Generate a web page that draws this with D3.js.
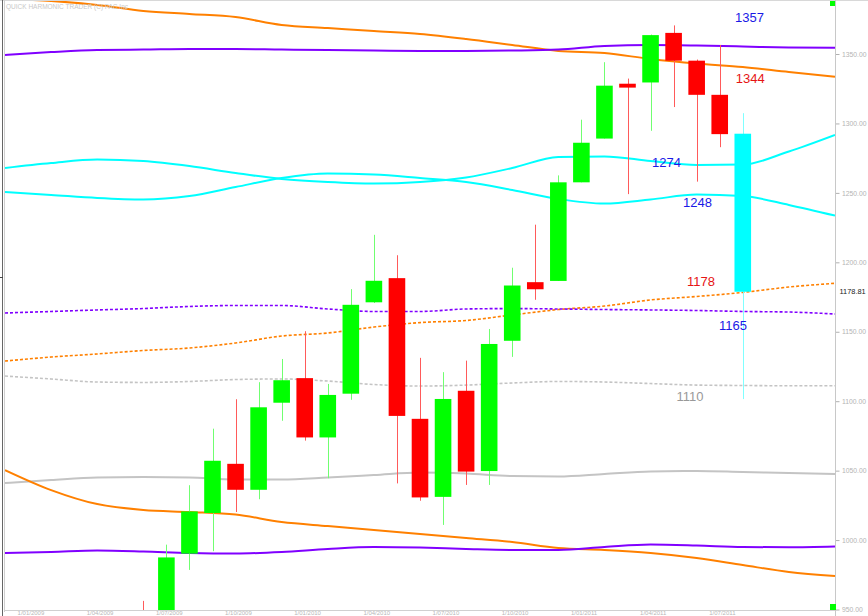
<!DOCTYPE html>
<html><head><meta charset="utf-8">
<script src="https://cdn.jsdelivr.net/npm/d3@7/dist/d3.min.js"></script>
<style>body{margin:0;background:#fff}svg{display:block;font-family:"Liberation Sans",Arial,sans-serif}</style>
</head><body><svg id="c" width="868" height="616"></svg>
<script>
// ---- DATA ----
const months = ["2009-06","2009-07","2009-08","2009-09","2009-10","2009-11","2009-12","2010-01","2010-02","2010-03","2010-04","2010-05","2010-06","2010-07","2010-08","2010-09","2010-10","2010-11","2010-12","2011-01","2011-02","2011-03","2011-04","2011-05","2011-06","2011-07","2011-08"];
const openV  = [923.3,920.8,990.2,1019.5,1054.9,1036.2,1098.9,1116.6,1073.9,1105.4,1171.2,1188.6,1087.3,1031.1,1107.5,1049.7,1143.5,1185.7,1186.6,1257.6,1289.1,1328.6,1329.5,1365.2,1345.2,1320.6,1292.6];
const highV  = [956.2,996.7,1039.5,1080.2,1101.4,1113.7,1130.4,1150.4,1112.4,1180.7,1219.8,1205.1,1131.2,1120.9,1129.2,1152.0,1196.1,1227.1,1262.6,1302.7,1344.1,1332.3,1364.0,1370.6,1346.0,1356.5,1307.4];
const lowV   = [888.9,869.3,978.5,992.0,1020.2,1029.4,1085.9,1071.6,1044.5,1101.0,1170.7,1040.8,1028.3,1010.9,1039.7,1039.7,1131.9,1173.0,1186.6,1257.6,1289.1,1249.1,1294.7,1311.8,1258.1,1282.9,1101.5];
const closeV = [919.3,987.5,1020.6,1057.1,1036.2,1095.6,1115.1,1073.9,1104.5,1169.4,1186.7,1089.4,1030.7,1101.6,1049.3,1141.2,1183.3,1180.6,1257.6,1286.1,1327.2,1325.8,1363.6,1345.2,1320.6,1292.3,1178.81];
const lastPrice = 1178.81;

// projection lines, sampled at bar index -6,-4,...,30
const lineIdx = d3.range(-6, 31, 2);
const purpleUpper = [1349.3,1351.4,1352.9,1353.2,1353.6,1353.6,1353.2,1352.9,1352.5,1352.2,1352.2,1352.5,1353.2,1355.8,1356.5,1356.1,1355.4,1354.7,1354.5];
const orangeUpper = [1389.6,1388.2,1385.3,1381.0,1378.8,1376.6,1370.9,1368.7,1366.5,1364.4,1360.8,1356.5,1352.2,1350.7,1346.4,1343.1,1340.6,1337.0,1333.6];
const cyanA       = [1267.9,1271.5,1274.0,1272.9,1269.3,1264.3,1260.0,1257.8,1256.7,1257.8,1261.1,1267.9,1275.8,1276.2,1272.9,1270.1,1270.4,1279.8,1291.7];
const cyanB       = [1250.6,1248.5,1246.3,1245.2,1247.7,1254.2,1260.7,1263.9,1263.2,1260.7,1257.8,1252.1,1245.6,1242.3,1245.2,1248.8,1247.7,1241.3,1233.6];
const purpleDot   = [1163.5,1164.6,1165.7,1166.7,1168.2,1168.9,1168.9,1166.4,1164.6,1164.6,1166.4,1166.7,1166.4,1166.0,1165.7,1165.3,1164.6,1164.2,1162.8];
const orangeDot   = [1128.9,1131.8,1134.0,1136.5,1138.3,1141.9,1146.9,1149.1,1153.4,1156.6,1158.1,1162.1,1166.0,1168.5,1172.9,1175.4,1178.3,1182.2,1184.9];
const grayDot     = [1118.1,1116.0,1113.8,1113.5,1114.2,1115.6,1116.0,1114.5,1112.0,1110.9,1111.6,1113.1,1114.2,1113.8,1112.7,1111.6,1111.3,1111.1,1111.1];
const graySolid   = [1041.1,1043.2,1045.0,1045.4,1045.0,1043.6,1043.6,1045.0,1046.8,1048.7,1047.9,1046.1,1045.8,1047.6,1049.4,1049.7,1049.0,1048.3,1047.6];
const orangeLower = [1050.4,1036.0,1025.9,1021.6,1020.2,1018.4,1013.0,1010.1,1007.3,1004.4,1001.5,998.6,994.3,992.9,990.7,987.1,982.0,977.0,974.1];
const purpleLower = [990.7,991.4,992.5,991.8,990.7,990.3,991.4,993.6,995.0,994.6,993.6,992.9,992.9,995.0,996.8,996.1,995.0,994.8,995.4];

const yTicks = [950,1000,1050,1100,1150,1200,1250,1300,1350];
const dateIdx = [-5,-2,1,4,7,10,13,16,19,22,25];
const dateLabels = ["1/01/2009","1/04/2009","1/07/2009","1/10/2009","1/01/2010","1/04/2010","1/07/2010","1/10/2010","1/01/2011","1/04/2011","1/07/2011"];
const levelLabels = ["1357","1344","1274","1248","1178","1165","1110"];

// ---- LAYOUT / STYLE ----
const W = 868, H = 616;
const plot = {left:5, right:835, top:1, bottom:610};
const svg = d3.select("#c");
const x = d3.scaleLinear().domain([-6, 30]).range([plot.left, plot.right]);
const y = d3.scaleLinear().domain([950, 1350]).range([609.5, 54]);
const step = x(1) - x(0);

svg.append("rect").attr("width", W).attr("height", H).attr("fill", "#fff");
svg.append("defs").append("clipPath").attr("id","clip").append("rect")
  .attr("x", plot.left).attr("y", plot.top).attr("width", plot.right-plot.left).attr("height", plot.bottom-plot.top);

const g = svg.append("g").attr("clip-path","url(#clip)");

// lines
const lineStyles = [
  {data: graySolid,   color:"#c4c4c4", dash:null, w:2},
  {data: grayDot,     color:"#c4c4c4", dash:"3,2", w:1.6},
  {data: orangeDot,   color:"#ff8000", dash:"3,2", w:1.6},
  {data: purpleDot,   color:"#8000ff", dash:"3,2", w:1.6},
  {data: cyanA,       color:"#00ffff", dash:null, w:2},
  {data: cyanB,       color:"#00ffff", dash:null, w:2},
  {data: orangeLower, color:"#ff8000", dash:null, w:2},
  {data: purpleLower, color:"#8000ff", dash:null, w:2},
  {data: orangeUpper, color:"#ff8000", dash:null, w:2},
  {data: purpleUpper, color:"#8000ff", dash:null, w:2}
];
const lineGen = d3.line().x((d,i)=>x(lineIdx[i])).y(d=>y(d)).curve(d3.curveMonotoneX);
lineStyles.forEach(s=>{
  g.append("path").attr("d", lineGen(s.data)).attr("fill","none")
    .attr("stroke", s.color).attr("stroke-width", s.w)
    .attr("stroke-dasharray", s.dash);
});

// candles
const bodyW = step*0.72;
const n = months.length;
const candles = d3.range(n).map(i=>({i, o:openV[i], h:highV[i], l:lowV[i], c:closeV[i]}));
function colors(d){
  if (d.i === n-1) return {body:"#00ffff", wick:"#80ffff"};
  return d.c >= d.o ? {body:"#00ff00", wick:"#70ff70"} : {body:"#ff0000", wick:"#ff5a5a"};
}
const cg = g.append("g");
cg.selectAll("line.w").data(candles).join("line")
  .attr("x1", d=>Math.round(x(d.i))+0.5).attr("x2", d=>Math.round(x(d.i))+0.5)
  .attr("y1", d=>y(d.h)).attr("y2", d=>y(d.l))
  .attr("stroke", d=>colors(d).wick).attr("stroke-width",1);
cg.selectAll("rect.b").data(candles).join("rect")
  .attr("x", d=>x(d.i)-bodyW/2).attr("width", bodyW)
  .attr("y", d=>y(Math.max(d.o,d.c))).attr("height", d=>Math.max(2, Math.abs(y(d.o)-y(d.c))))
  .attr("fill", d=>colors(d).body);

// level labels (positioned by bar index / price)
const levelPos = [
  {i:25.66, v:1376.6, color:"#1a1ae6"},
  {i:25.70, v:1332.7, color:"#e61414"},
  {i:22.06, v:1272.2, color:"#1a1ae6"},
  {i:23.41, v:1243.4, color:"#1a1ae6"},
  {i:23.58, v:1186.5, color:"#e61414"},
  {i:24.97, v:1154.9, color:"#1a1ae6"},
  {i:23.12, v:1103.7, color:"#999999"}
];
svg.selectAll("text.lvl").data(levelLabels).join("text")
  .attr("x", (d,k)=>x(levelPos[k].i)).attr("y", (d,k)=>y(levelPos[k].v))
  .attr("dy","0.36em").attr("font-size",13).attr("fill",(d,k)=>levelPos[k].color)
  .text(d=>d);

// frame
svg.append("line").attr("x1",0).attr("x2",W).attr("y1",0.5).attr("y2",0.5).attr("stroke","#d8d8d8");
svg.append("line").attr("x1",2.5).attr("x2",2.5).attr("y1",0).attr("y2",H).attr("stroke","#666");
svg.append("line").attr("x1",4.5).attr("x2",4.5).attr("y1",0).attr("y2",612).attr("stroke","#d0d0d0");
svg.append("line").attr("x1",plot.left).attr("x2",plot.right).attr("y1",610.5).attr("y2",610.5).attr("stroke","#d0d0d0");
svg.append("line").attr("x1",0).attr("x2",3).attr("y1",277.5).attr("y2",277.5).attr("stroke","#444");

// right axis
const yAxis = d3.axisRight(y).tickValues(yTicks).tickFormat(d3.format(".2f")).tickSize(4).tickPadding(2.5);
const ya = svg.append("g").attr("transform","translate(835.5,0)").call(yAxis);
ya.select(".domain").remove();
ya.selectAll(".tick line").attr("stroke","#b0b0b0");
ya.selectAll(".tick text").attr("fill","#b4b4b4").attr("font-size",6.8).attr("font-family","Liberation Sans, Arial");
svg.append("line").attr("x1",835.5).attr("x2",835.5).attr("y1",0).attr("y2",H).attr("stroke","#c8c8c8");

// bottom axis dates
const xAxis = d3.axisBottom(x).tickValues(dateIdx).tickFormat((d,k)=>dateLabels[k]).tickSize(0).tickPadding(0);
const xa = svg.append("g").attr("transform","translate(0,610.5)").call(xAxis);
xa.select(".domain").remove();
xa.selectAll(".tick text").attr("fill","#b8b8b8").attr("font-size",6).attr("text-anchor","start").attr("x",-11)
  .attr("y",4).attr("dy",0).attr("font-family","Liberation Sans, Arial");

// last price label
svg.append("text").attr("x",839.5).attr("y",y(lastPrice)).attr("dy","0.36em")
  .attr("font-size",7.4).attr("fill","#222").text(d3.format(".2f")(lastPrice));

// title
svg.append("text").attr("x",6).attr("y",9).attr("font-size",7).attr("fill","#c8c8c8")
  .attr("textLength",122).attr("lengthAdjust","spacingAndGlyphs")
  .text("QUICK HARMONIC TRADER (C) FAC Inc");

// green corner markers
svg.append("rect").attr("x",830).attr("y",1).attr("width",5).attr("height",5).attr("fill","#00ff00");
svg.append("rect").attr("x",830).attr("y",604).attr("width",6).attr("height",6).attr("fill","#00ff00");
</script></body></html>
